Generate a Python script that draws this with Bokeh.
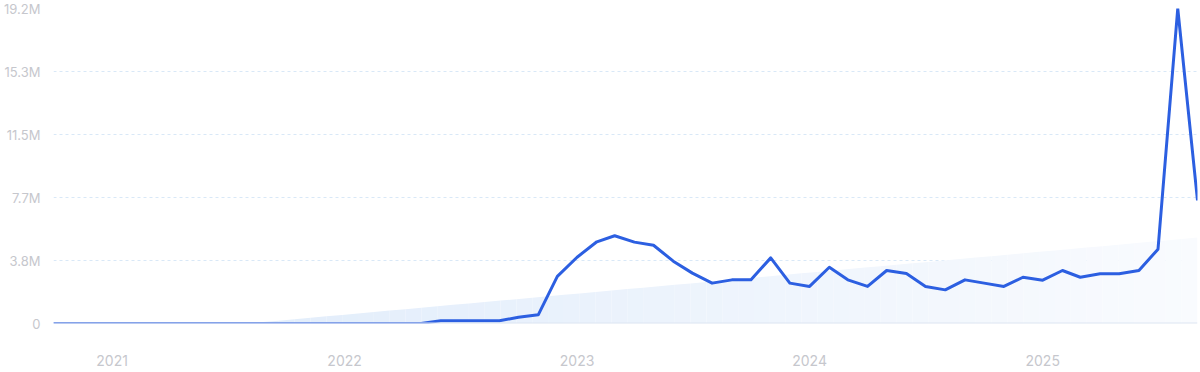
import pandas as pd
from bokeh.plotting import figure
from bokeh.models import FixedTicker, Range1d, Span, ColumnDataSource
from bokeh.embed import file_html
from bokeh.resources import INLINE

# monthly values, Oct 2020 .. Sep 2025 (millions)
start_month = "2020-10-01"
values_m = [
    0, 0, 0,                                   # Oct-Dec 2020
    0, 0, 0, 0, 0, 0, 0, 0, 0, 0, 0, 0,        # 2021
    0, 0, 0, 0, 0, 0.17, 0.17, 0.17, 0.17, 0.38, 0.53, 2.87,   # 2022
    4.04, 4.98, 5.35, 4.96, 4.77, 3.8, 3.07, 2.46, 2.66, 2.66, 4.0, 2.46,  # 2023
    2.26, 3.43, 2.66, 2.26, 3.23, 3.05, 2.26, 2.05, 2.66, 2.46, 2.26, 2.82,  # 2024
    2.64, 3.23, 2.82, 3.03, 3.03, 3.23, 4.53, 19.2, 7.5,       # 2025 Jan-Sep
]
# trend band endpoints (millions)
trend_dates = ["2021-08-01", "2025-09-01"]
trend_values_m = [0.0, 5.24]

y_ticks_m = [0, 3.84, 7.68, 11.52, 15.36, 19.2]
y_tick_labels = ["0", "3.8M", "7.7M", "11.5M", "15.3M", "19.2M"]
x_tick_years = ["2021", "2022", "2023", "2024", "2025"]

dates = pd.date_range(start_month, periods=len(values_m), freq="MS")
vals = [v * 1e6 for v in values_m]

p = figure(width=1200, height=372, x_axis_type="datetime",
           output_backend="svg", toolbar_location=None,
           min_border_left=53, min_border_right=3, min_border_top=8, min_border_bottom=49)
p.x_range = Range1d(dates[0], dates[-1])
p.y_range = Range1d(0, 19.2e6)
p.outline_line_color = None
p.background_fill_color = "white"
p.border_fill_color = "white"

# trend band with horizontal gradient
t0 = pd.Timestamp(trend_dates[0]).value / 1e6
t1 = pd.Timestamp(trend_dates[1]).value / 1e6
v0, v1 = trend_values_m[0] * 1e6, trend_values_m[1] * 1e6
N = 60
c0 = (226, 237, 251)
c1 = (249, 251, 254)
for i in range(N):
    fa, fb = i / N, (i + 1) / N
    xa, xb = t0 + (t1 - t0) * fa, t0 + (t1 - t0) * fb
    ya, yb = v0 + (v1 - v0) * fa, v0 + (v1 - v0) * fb
    f = (i + 0.5) / N
    col = "#%02x%02x%02x" % tuple(int(round(a + (b - a) * f)) for a, b in zip(c0, c1))
    p.varea(x=[xa, xb], y1=[0, 0], y2=[ya, yb], fill_color=col, fill_alpha=1)

# baseline
p.add_layout(Span(location=0, dimension="width", line_color="#dde5f1", line_width=2))

src = ColumnDataSource(dict(x=dates, y=vals))
p.line("x", "y", source=src, line_color="#2c5fe1", line_width=3, line_join="round")

# grid
p.xgrid.visible = False
p.ygrid.ticker = FixedTicker(ticks=[t * 1e6 for t in y_ticks_m[1:]])
p.ygrid.grid_line_color = "#d9e8f7"
p.ygrid.grid_line_dash = "3 3"
p.ygrid.grid_line_width = 1

# y axis
ya_ = p.yaxis[0]
ya_.ticker = FixedTicker(ticks=[t * 1e6 for t in y_ticks_m])
ya_.major_label_overrides = {t * 1e6: l for t, l in zip(y_ticks_m, y_tick_labels)}
ya_.axis_line_color = None
ya_.major_tick_line_color = None
ya_.minor_tick_line_color = None
ya_.major_label_text_color = "#c6c7cd"
ya_.major_label_text_font = "Inter"
ya_.major_label_text_font_size = "13px"
ya_.major_label_standoff = 7

# x axis
xt = [pd.Timestamp(y + "-01-01").value / 1e6 for y in x_tick_years]
xa_ = p.xaxis[0]
xa_.ticker = FixedTicker(ticks=xt)
xa_.major_label_overrides = {t: y for t, y in zip(xt, x_tick_years)}
xa_.axis_line_color = None
xa_.major_tick_line_color = None
xa_.minor_tick_line_color = None
xa_.major_label_text_color = "#c6c7cd"
xa_.major_label_text_font = "Inter"
xa_.major_label_text_font_size = "14px"
xa_.major_label_standoff = 25

open("out.html", "w").write(file_html(p, INLINE))
